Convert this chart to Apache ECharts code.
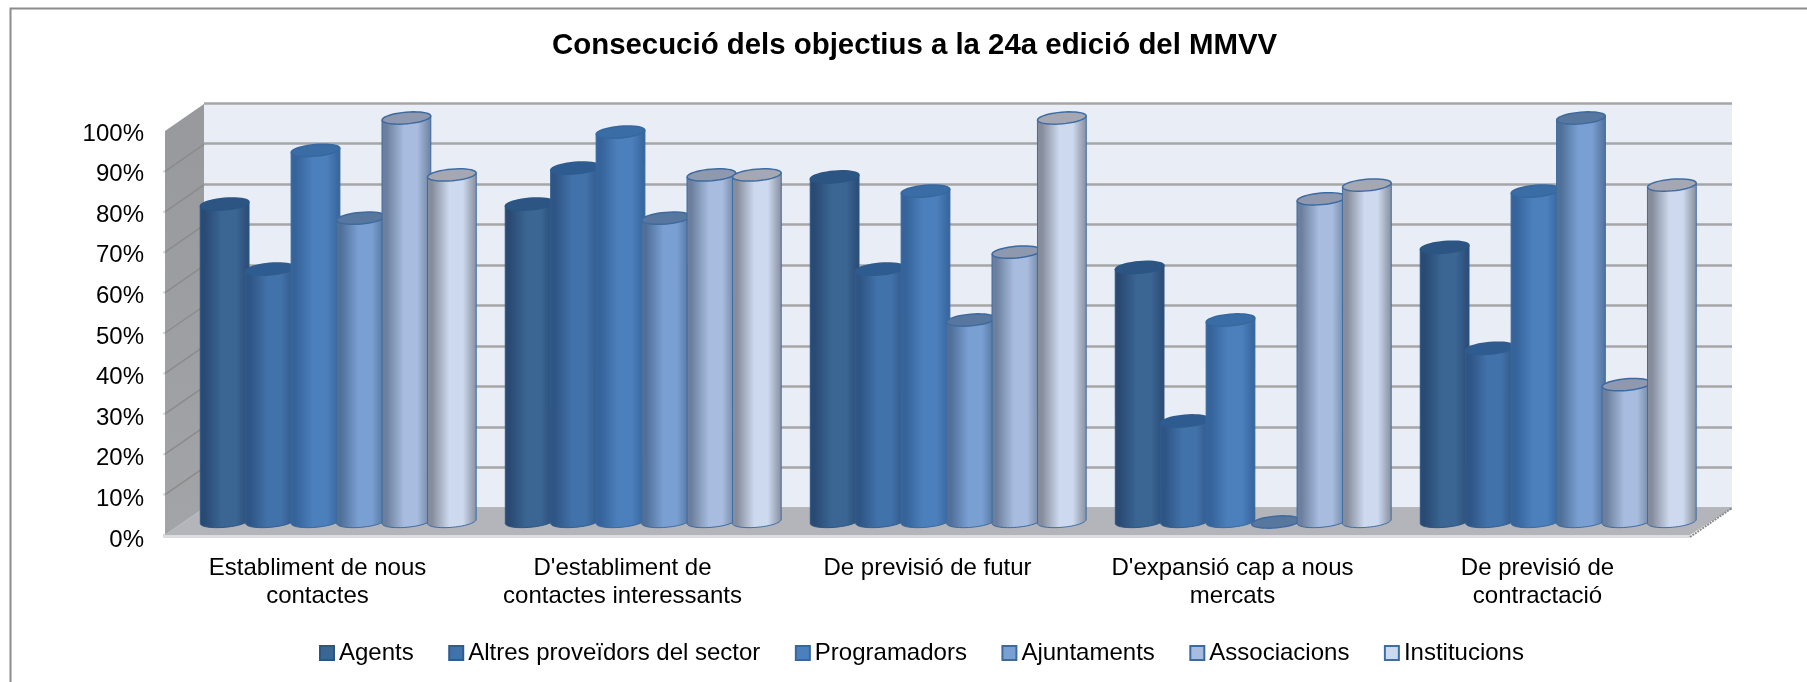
<!DOCTYPE html>
<html><head><meta charset="utf-8">
<style>html,body{margin:0;padding:0;background:#fff}#c{width:1807px;height:682px}</style>
<script src="https://cdn.jsdelivr.net/npm/echarts@6/dist/echarts.min.js"></script>
</head><body><div id="c"></div>
<script>
const categories = ["Establiment de nous\ncontactes", "D'establiment de\ncontactes interessants", "De previsió de futur", "D'expansió cap a nous\nmercats", "De previsió de\ncontractació"];
const agents = [78.7, 78.7, 85.4, 63, 68];
const altres = [62.6, 87.6, 62.6, 25, 43];
const programadors = [92, 96.5, 81.9, 50, 81.9];
const ajuntaments = [75.2, 75.2, 50, 0, 100];
const associacions = [100, 85.9, 66.8, 80, 34];
const institucions = [85.9, 85.9, 100, 83.4, 83.4];
const seriesNames = ["Agents", "Altres proveïdors del sector", "Programadors", "Ajuntaments", "Associacions", "Institucions"];
const seriesValues = [agents, altres, programadors, ajuntaments, associacions, institucions];
const yTicks = [0, 10, 20, 30, 40, 50, 60, 70, 80, 90, 100];

const palette = [
  {edge:'#2a4a73', mid:'#3b6694', top:'#2c5583', line:'#2b5583'},
  {edge:'#2f5585', mid:'#4272aa', top:'#2f5c90', line:'#2f5c90'},
  {edge:'#35639a', mid:'#4c80bd', top:'#3a6ca5', line:'#36689f'},
  {edge:'#4f7099', mid:'#7a9fd3', top:'#58779f', line:'#3e6a9e'},
  {edge:'#6c7f9e', mid:'#a7bcde', top:'#8e98ae', line:'#3c6aa0'},
  {edge:'#858c9c', mid:'#cdd9ee', top:'#a5a8b3', line:'#3f6da3'}
];
const FONT = '"Liberation Sans", Arial, sans-serif';
const DX = 39, DY = -27;

function ellipsePts(cx, cy, rx, ry, from, to, n) {
  const t = -5 * Math.PI / 180, pts = [];
  for (let i = 0; i <= n; i++) {
    const a = from + (to - from) * i / n;
    const x = rx * Math.cos(a), y = ry * Math.sin(a);
    pts.push([cx + x * Math.cos(t) - y * Math.sin(t), cy + x * Math.sin(t) + y * Math.cos(t)]);
  }
  return pts;
}

function barRenderer(idx) {
  return function (params, api) {
    const v = api.value(1), cat = api.value(0);
    const band = api.size([1, 0])[0];
    const base = api.coord([cat, 0]), top = api.coord([cat, v]);
    const w = band * 0.16, pitch = band * 0.149;
    const cx = base[0] + band * 0.068 + (idx - 2.5) * pitch;
    const by = base[1] - 13.5, ty = top[1] - 13;
    const rx = w / 2, ry = 5.8, c = palette[idx];
    const children = [];
    if (v > 0) {
      const pts = [[cx - rx, ty + rx * Math.sin(5 * Math.PI / 180)]]
        .concat(ellipsePts(cx, by, rx, ry, Math.PI, 0, 24), [[cx + rx, ty - rx * Math.sin(5 * Math.PI / 180)]]);
      children.push({
        type: 'polygon', shape: {points: pts},
        style: {
          fill: new echarts.graphic.LinearGradient(0, 0, 1, 0, [
            {offset: 0, color: c.edge}, {offset: 0.1, color: c.edge},
            {offset: 0.45, color: c.mid}, {offset: 0.72, color: c.mid}, {offset: 1, color: c.edge}]),
          stroke: c.line, lineWidth: 1
        }
      });
    }
    children.push({
      type: 'polygon', shape: {points: ellipsePts(cx, ty, rx, ry, 0, 2 * Math.PI, 40)},
      style: {fill: v > 0 ? c.top : palette[3].top, stroke: c.line, lineWidth: 1.5}
    });
    return {type: 'group', children};
  };
}

function shellRenderer(params, api) {
  const cs = params.coordSys;
  const xMin = cs.x, xMax = cs.x + cs.width, y0 = cs.y + cs.height, yTop = cs.y;
  const kids = [];
  kids.push({type: 'polygon', shape: {points: [[xMin, y0], [xMin + DX, y0 + DY], [xMax + DX + 3, y0 + DY], [xMax, y0]]},
    style: {fill: '#b4b5ba'}});
  kids.push({type: 'rect', shape: {x: xMin - 2, y: y0, width: xMax - xMin + 2, height: 3}, style: {fill: '#dcdde0'}});
  kids.push({type: 'line', shape: {x1: xMax, y1: y0 + 2, x2: xMax + DX + 3, y2: y0 + DY}, style: {stroke: '#8a8a8a', lineWidth: 2, lineDash: [2, 1]}});
  kids.push({type: 'polygon', shape: {points: [[xMin, y0], [xMin, yTop], [xMin + DX, yTop + DY], [xMin + DX, y0 + DY]]},
    style: {fill: new echarts.graphic.LinearGradient(0, 0, 0, 1, [{offset: 0, color: '#97999c'}, {offset: 1, color: '#a3a4a7'}])}});
  yTicks.forEach(function (t) {
    const py = api.coord([0, t])[1];
    if (t > 0 && t < 100) kids.push({type: 'line', shape: {x1: xMin, y1: py, x2: xMin + DX, y2: py + DY},
      style: {stroke: '#8d8a8a', lineWidth: 1.5}});
    if (t < 100) kids.push({type: 'line', shape: {x1: xMin - 2, y1: py, x2: xMin, y2: py}, style: {stroke: '#d8d8d8', lineWidth: 2}});
  });
  return {type: 'group', children: kids};
}

const chart = echarts.init(document.getElementById('c'), null, {renderer: 'canvas'});
const series = [{
  type: 'custom', name: '_shell', xAxisIndex: 0, yAxisIndex: 0, silent: true, clip: false, z: 1,
  data: [[0, 0]], renderItem: shellRenderer, animation: false
}].concat(seriesNames.map(function (name, idx) {
  return {
    type: 'custom', name: name, xAxisIndex: 0, yAxisIndex: 0, clip: false, z: 3 + idx,
    itemStyle: {color: palette[idx].mid, borderColor: palette[idx].line, borderWidth: 2},
    encode: {x: 0, y: 1},
    data: seriesValues[idx].map(function (v, i) { return [i, v]; }),
    renderItem: barRenderer(idx), animation: false
  };
}));

chart.setOption({
  animation: false,
  backgroundColor: '#ffffff',
  textStyle: {fontFamily: FONT},
  title: {
    text: 'Consecució dels objectius a la 24a edició del MMVV',
    left: 552, top: 31, padding: 0,
    textStyle: {fontFamily: FONT, fontSize: 29.4, fontWeight: 'bold', color: '#000'}
  },
  legend: {
    data: seriesNames, left: 319, top: 641, padding: 0, icon: 'rect', itemWidth: 14, itemHeight: 14, itemGap: 34.5,
    textStyle: {fontFamily: FONT, fontSize: 24, color: '#000'},
    selectedMode: false
  },
  graphic: [{
    type: 'polyline', silent: true, z: -1,
    shape: {points: [[10.5, 682], [10.5, 8.5], [1807, 8.5]]},
    style: {stroke: '#8c8c8c', fill: null, lineWidth: 2}
  }],
  grid: [
    {left: 165, top: 131, width: 1525, height: 404, show: false},
    {left: 204, top: 103, width: 1528, height: 405, show: true, backgroundColor: '#e9edf6', borderWidth: 0, z: 0},
    {left: 165, top: 134, width: 1525, height: 406, show: false}
  ],
  xAxis: [
    {type: 'category', gridIndex: 0, data: categories, boundaryGap: true,
     axisLine: {show: false}, axisTick: {show: false}, splitLine: {show: false},
     axisLabel: {interval: 0, margin: 19, fontFamily: FONT, fontSize: 24, lineHeight: 28, color: '#000'}},
    {type: 'category', gridIndex: 1, data: categories, show: false},
    {type: 'category', gridIndex: 2, data: categories, show: false}
  ],
  yAxis: [
    {type: 'value', gridIndex: 0, min: 0, max: 100, interval: 10, show: false},
    {type: 'value', gridIndex: 1, min: 0, max: 100, interval: 10,
     axisLine: {show: false}, axisTick: {show: false}, axisLabel: {show: false},
     splitLine: {show: true, lineStyle: {color: '#a6a6a8', width: 2.5}}},
    {type: 'value', gridIndex: 2, min: 0, max: 100, interval: 10,
     axisLine: {show: false}, axisTick: {show: false}, splitLine: {show: false},
     axisLabel: {formatter: '{value}%', margin: 21, fontFamily: FONT, fontSize: 24, color: '#000'}}
  ],
  series: series
});
</script></body></html>
